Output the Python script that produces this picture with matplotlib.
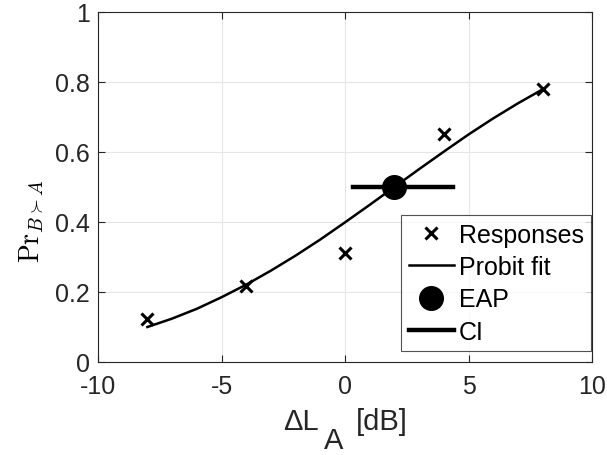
import numpy as np
import matplotlib
matplotlib.use("Agg")
from matplotlib import pyplot as plt

# Listener responses
resp_x = [-8, -4, 0, 4, 8]
resp_y = [0.123, 0.217, 0.311, 0.652, 0.780]

# Probit fit at 1 dB steps
fit_x = [-8, -7, -6, -5, -4, -3, -2, -1, 0, 1, 2, 3, 4, 5, 6, 7, 8]
fit_y = [0.100, 0.124, 0.152, 0.185, 0.221, 0.261, 0.304, 0.350, 0.399,
         0.449, 0.500, 0.551, 0.601, 0.650, 0.696, 0.739, 0.779]

# EAP estimate and credible interval
eap_x, eap_y = 2.0, 0.5
ci_x = [0.32, 4.37]
ci_y = [0.5, 0.5]

xticks = [-10, -5, 0, 5, 10]
yticks = [0, 0.2, 0.4, 0.6, 0.8, 1]

plt.rcParams["font.family"] = ["Liberation Sans", "DejaVu Sans"]
FS = 18
INK = "#262626"

W, H = 607, 456
fig = plt.figure(figsize=(W / 100, H / 100), dpi=100)
ax = fig.add_axes([98 / W, 1 - 363 / H, 494 / W, 350 / H])

ax.plot(resp_x, resp_y, "x", color="black", markersize=9, markeredgewidth=2.2,
        label="Responses", zorder=4)
ax.plot(fit_x, fit_y, "-", color="black", linewidth=1.8, label="Probit fit", zorder=3)
ax.plot(eap_x, eap_y, "o", color="black", markersize=17, label="EAP", zorder=5)
ax.plot(ci_x, ci_y, "-", color="black", linewidth=3.2, label="CI", zorder=4)

ax.set_xlim(-10, 10)
ax.set_ylim(0, 1)
ax.set_xticks(xticks)
ax.set_xticklabels([str(t) for t in xticks])
ax.set_yticks(yticks)
ax.set_yticklabels([f"{t:g}" for t in yticks])
ax.tick_params(direction="in", top=True, right=True, labelsize=FS, length=5,
               width=0.8, color=INK, labelcolor=INK)
ax.tick_params(axis="x", pad=9)
ax.tick_params(axis="y", pad=6)
ax.grid(True, color="#e6e6e6", linewidth=0.8)
ax.set_axisbelow(True)
for s in ax.spines.values():
    s.set_color(INK)
    s.set_linewidth(0.8)

# x label: MATLAB-style subscript keeps full size, just dropped
fig.text(283 / W, 1 - 430 / H, "ΔL", fontsize=21, color=INK, ha="left", va="baseline")
fig.text(324 / W, 1 - 449 / H, "A", fontsize=21, color=INK, ha="left", va="baseline")
fig.text(356 / W, 1 - 430 / H, "[dB]", fontsize=21, color=INK, ha="left", va="baseline")

ax.set_ylabel(r"$\mathrm{Pr}_{B\succ A}$", fontsize=20, math_fontfamily="cm")
ax.yaxis.set_label_coords(-0.108, 0.406)

leg = ax.legend(loc="lower right", bbox_to_anchor=(0.998, 0.031), fontsize=FS,
                frameon=True, fancybox=False, edgecolor=INK, handlelength=1.8,
                handletextpad=0.2, borderaxespad=0, labelspacing=0.33,
                borderpad=0.3)
leg.get_frame().set_linewidth(0.8)

fig.savefig("out.png", dpi=100)
